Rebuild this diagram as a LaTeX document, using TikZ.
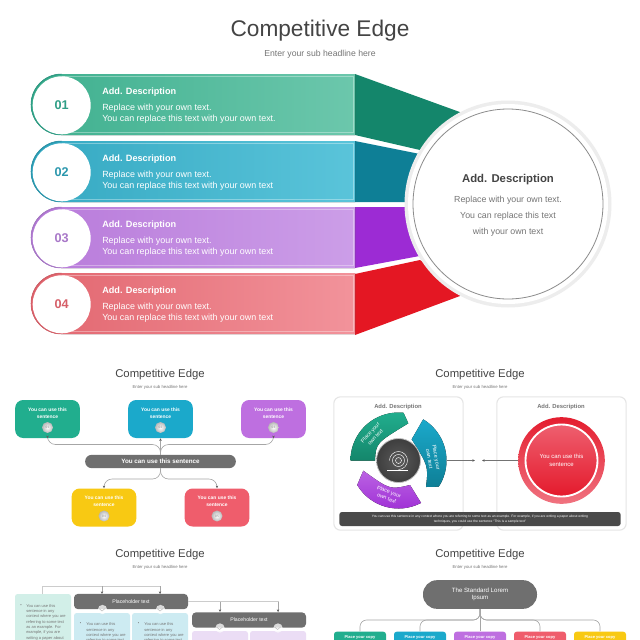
\documentclass[tikz,border=0pt]{standalone}
\usepackage{fontspec}
\setmainfont{Liberation Sans}
\usetikzlibrary{calc,arrows.meta}
\definecolor{inkdark}{HTML}{444444}
\definecolor{inkgrey}{HTML}{757575}
\definecolor{barfill}{HTML}{6F6F6F}
\definecolor{greenfill}{HTML}{21AE8E}
\definecolor{bluefill}{HTML}{1BA9CB}
\definecolor{purplefill}{HTML}{BE6FE0}
\definecolor{redfill}{HTML}{EF5D6C}
\definecolor{yellowfill}{HTML}{F8C913}
\definecolor{greendeep}{HTML}{14866B}
\definecolor{bluedeep}{HTML}{0E7F96}
\definecolor{purpledeep}{HTML}{9C2BD4}
\definecolor{reddeep}{HTML}{E41723}
\definecolor{greenleft}{HTML}{3FB08F}
\definecolor{greenright}{HTML}{6CC7AC}
\definecolor{greenline}{HTML}{2F9E86}
\definecolor{blueleft}{HTML}{35A9C2}
\definecolor{blueright}{HTML}{5AC4DA}
\definecolor{blueline}{HTML}{2B97AD}
\definecolor{purpleleft}{HTML}{B87ADA}
\definecolor{purpleright}{HTML}{CC9EE8}
\definecolor{purpleline}{HTML}{A877C8}
\definecolor{redleft}{HTML}{E2666F}
\definecolor{redright}{HTML}{F2939B}
\definecolor{redline}{HTML}{D65F68}
\definecolor{palegreen}{HTML}{D2EFE8}
\definecolor{paleblue}{HTML}{CDEBF2}
\definecolor{palepurple}{HTML}{EBDDF5}
\definecolor{hublight}{HTML}{5A5A5A}
\definecolor{hubdark}{HTML}{3E3E3E}
\definecolor{notefill}{HTML}{4A4A4A}
\definecolor{wedgepurple}{HTML}{C26FE6}
\definecolor{circleeast}{HTML}{E41D2F}
\definecolor{circlewest}{HTML}{F07380}
\definecolor{innertop}{HTML}{EE5F6F}
\definecolor{innerlow}{HTML}{E41A2C}
\tikzset{
	maintitle/.style={font=\fontsize{17}{20}\selectfont, text=inkdark},
	subtitle/.style={font=\fontsize{6.5}{8}\selectfont, text=inkgrey},
	smalltitle/.style={font=\fontsize{8.5}{10}\selectfont, text=inkdark},
	smallsub/.style={font=\fontsize{3.2}{5}\selectfont, text=inkgrey},
	bandhead/.style={anchor=west, inner sep=0pt, font=\bfseries\fontsize{6.85}{9}\selectfont, text=white},
	bandtext/.style={anchor=west, inner sep=0pt, align=left, font=\fontsize{6.7}{8.25}\selectfont, text=white},
	bandnum/.style={font=\bfseries\fontsize{9.5}{11}\selectfont},
	sentbox/.style={draw=none, rounded corners=6pt, minimum width=48.5pt, minimum height=28.5pt},
	senttext/.style={align=center, text=white, font=\bfseries\fontsize{3.7}{5.2}\selectfont},
	ballnode/.style={circle, minimum size=8.2pt, inner sep=0pt, inner color=white, outer color=black!28, text=black!45, font=\fontsize{2.4}{3}\selectfont},
	link/.style={draw=black!35, line width=0.45pt},
	linktip/.style={link, -{Stealth[length=2pt,width=1.8pt,color=black!65]}},
	curvetip/.style={linktip, rounded corners=6pt},
	greybar/.style={fill=barfill, text=white, align=center},
	paleitem/.style={anchor=north west, inner sep=0pt, align=left, text=inkgrey, font=\fontsize{3}{4}\selectfont},
	panelbox/.style={draw=black!10, line width=0.8pt, fill=white, rounded corners=5pt, minimum width=97pt, minimum height=100pt},
	chevball/.style={circle, fill=white, fill opacity=0.75, minimum size=7pt, inner sep=0pt},
	chevmark/.style={draw=black!25, line width=0.4pt},
	wedgetext/.style={align=center, text=white, font=\fontsize{4}{5.2}\selectfont},
	stepbox/.style={rounded corners=2pt, minimum width=39pt, minimum height=12pt, inner sep=0pt},
	steptext/.style={text=white, font=\bfseries\fontsize{3}{4}\selectfont},
}
% one band of the top slide: colours, top y, number, last text line
\def\bandrow[#1,#2,#3](#4)(#5)(#6){
	\fill[left color=#1, right color=#2] (355, #4) -- (61.5, #4) arc (270:90:30.5) -- (355, #4+61) -- cycle;
	\draw[white, opacity=0.35, line width=0.5pt] (62, #4+2.5) -- (353, #4+2.5) -- (353, #4+58.5) -- (62, #4+58.5);
	\draw[#3, line width=1pt] (61.5, #4+0.4) arc (270:90:30.1);
	\node[circle, fill=white, minimum size=43.5pt, inner sep=0pt, text=#3, bandnum] at (61.7, #4+31.3) {#5};
	\node[bandhead] at (102, #4+18) {Add. Description};
	\node[bandtext] at (102, #4+39.5) {Replace with your own text.\\#6};
}
\begin{document}
\begin{tikzpicture}[x=0.75pt, y=-0.75pt]
	\useasboundingbox (0, 0) rectangle (640, 640);
	\clip (0, 0) rectangle (640, 640);
	\fill[white] (0, 0) rectangle (640, 640);
	%%%%% TOP SLIDE %%%%%
	\node[maintitle] (maintitle) at (320, 30.5) {Competitive Edge};
	\node[subtitle] (mainsub) at (320, 54) {Enter your sub headline here};

	\fill[greendeep] (355, 74) -- (468, 115) -- (420, 150) -- (355, 135) -- cycle;
	\fill[bluedeep] (355, 141) -- (425, 155) -- (410, 202) -- (355, 202) -- cycle;
	\fill[purpledeep] (355, 207) -- (410, 207) -- (425, 255) -- (355, 268) -- cycle;
	\fill[reddeep] (355, 274) -- (420, 260) -- (468, 293) -- (355, 335) -- cycle;

	\bandrow[greenleft,greenright,greenline](74)(01)(You can replace this text with your own text.)
	\bandrow[blueleft,blueright,blueline](141)(02)(You can replace this text with your own text)
	\bandrow[purpleleft,purpleright,purpleline](207)(03)(You can replace this text with your own text)
	\bandrow[redleft,redright,redline](273)(04)(You can replace this text with your own text)

	\fill[black!7] (508, 204) circle (103.5);
	\fill[white] (508, 204) circle (100);
	\draw[black!45, fill=white, line width=0.6pt] (508, 204) circle (95);
	\node[font=\bfseries\fontsize{8.5}{10}\selectfont, text=inkdark] (bighead) at (508, 180) {Add. Description};
	\node[font=\fontsize{6.6}{12}\selectfont, text=inkgrey, align=center] (bigtext) at (508, 216) {Replace with your own text.\\You can replace this text\\with your own text};

	%%%%% SECOND ROW LEFT %%%%%
	\node[smalltitle] (lefttitle) at (160, 375) {Competitive Edge};
	\node[smallsub] (leftsub) at (160, 387) {Enter your sub headline here};

	\node[sentbox, fill=greenfill] (greenbox) at (47.5, 419) {};
	\node[sentbox, fill=bluefill] (bluebox) at (160.5, 419) {};
	\node[sentbox, fill=purplefill] (purplebox) at (273.5, 419) {};
	\node[sentbox, fill=yellowfill] (yellowbox) at (104, 507.5) {};
	\node[sentbox, fill=redfill] (redbox) at (217, 507.5) {};
	\node[senttext] (textone) at (47.5, 413) {You can use this\\sentence};
	\node[senttext] (texttwo) at (160.5, 413) {You can use this\\sentence};
	\node[senttext] (textthree) at (273.5, 413) {You can use this\\sentence};
	\node[senttext] (textfour) at (104, 501.5) {You can use this\\sentence};
	\node[senttext] (textfive) at (217, 501.5) {You can use this\\sentence};
	\node[ballnode] (ballone) at (47.5, 427.5) {01};
	\node[ballnode] (balltwo) at (160.5, 427.5) {02};
	\node[ballnode] (ballthree) at (273.5, 427.5) {03};
	\node[ballnode] (ballfour) at (104, 516) {04};
	\node[ballnode] (ballfive) at (217, 516) {05};

	\node[greybar, rounded corners=4.9pt, minimum width=113pt, minimum height=10pt, inner sep=0pt, font=\bfseries\fontsize{4.7}{6}\selectfont] (sentbar) at (160.5, 461.5) {You can use this sentence};
	\coordinate (joinup) at (160.5, 444.5);
	\coordinate (joindown) at (160.5, 479);
	\draw[curvetip] (sentbar.north) -- (joinup) -| (greenbox.south);
	\draw[curvetip] (sentbar.north) -- (joinup) -| (purplebox.south);
	\draw[linktip] (sentbar.north) -- (bluebox.south);
	\draw[curvetip] (sentbar.south) -- (joindown) -| (yellowbox.north);
	\draw[curvetip] (sentbar.south) -- (joindown) -| (redbox.north);

	%%%%% SECOND ROW RIGHT %%%%%
	\node[smalltitle] (righttitle) at (480, 375) {Competitive Edge};
	\node[smallsub] (rightsub) at (480, 387) {Enter your sub headline here};

	\node[panelbox] (panelleft) at (398.5, 463.5) {};
	\node[panelbox] (panelright) at (561.5, 463.5) {};
	\node[font=\bfseries\fontsize{4.4}{6}\selectfont, text=inkgrey] (panelhead) at (398, 407) {Add. Description};
	\node[font=\bfseries\fontsize{4.4}{6}\selectfont, text=inkgrey] (panelheadb) at (561, 407) {Add. Description};

	\coordinate (hub) at (398.5, 460.5);
	\fill[top color=greenfill, bottom color=greendeep] (hub) ++(-180:48) arc (-180:-84:48) -- (408.3, 423.3) .. controls (376, 443) .. (375, 460.5) -- cycle;
	\fill[top color=bluefill, bottom color=bluedeep] (hub) ++(-59:48) arc (-59:33:48) -- (426, 487) .. controls (428.4, 466) .. (411.7, 439.3) -- cycle;
	\fill[top color=wedgepurple, bottom color=purpledeep] (hub) ++(-210.7:48) arc (-210.7:-298:48) -- (410, 485) .. controls (389.8, 489.8) .. (363.3, 470.7) -- cycle;
	\node[circle, minimum size=33pt, inner sep=0pt, inner color=hublight, outer color=hubdark, draw=black!25, line width=0.6pt] (hubnode) at (hub) {};
	\draw[white, line width=0.35pt] (hub) circle (6) (hub) circle (3);
	\draw[white, line width=0.35pt] (hub) ++(-9, 0) arc (180:450:9);
	\draw[white, line width=0.35pt] (387, 470.5) -- (408, 470.5);
	\node[wedgetext, rotate=48] (wedgeone) at (372.7, 435) {Place your\\own text};
	\node[wedgetext, rotate=-80] (wedgetwo) at (433, 458) {Place your\\own text};
	\node[wedgetext, rotate=-20] (wedgethree) at (388, 495) {Place your\\own text};

	\node[circle, minimum size=65pt, inner sep=0pt, top color=circleeast, bottom color=circlewest] (redouter) at (561.5, 460.5) {};
	\node[circle, minimum size=54pt, inner sep=0pt, draw=white, line width=1.4pt, top color=innertop, bottom color=innerlow, align=center, text=white, font=\fontsize{4.5}{6.2}\selectfont] (redinner) at (561.5, 460.5) {You can use this\\sentence};
	\coordinate (tipleft) at (475, 460.5);
	\coordinate (tipright) at (482, 460.5);
	\coordinate (wedgeedge) at (447, 460.5);
	\draw[linktip, draw=black!55] (wedgeedge) -- (tipleft);
	\draw[linktip, draw=black!55] (redouter.west) -- (tipright);

	\node[fill=notefill, rounded corners=2pt, minimum width=211pt, minimum height=10.5pt, inner sep=0pt, align=center, text=white, font=\fontsize{2.5}{3.6}\selectfont] (notebar) at (480, 519) {You can use this sentence in any context where you are referring to some text as an example. For example, if you are writing a paper about writing\\techniques, you could use the sentence “This is a sample text”};

	%%%%% THIRD ROW LEFT %%%%%
	\node[smalltitle] (lowtitle) at (160, 555) {Competitive Edge};
	\node[smallsub] (lowsub) at (160, 567) {Enter your sub headline here};

	\fill[palegreen, rounded corners=2pt] (15, 594) rectangle (71, 660);
	\fill[paleblue, rounded corners=2pt] (74, 613) rectangle (130, 660);
	\fill[paleblue, rounded corners=2pt] (132, 613) rectangle (188, 660);
	\fill[palepurple, rounded corners=2pt] (192, 631) rectangle (248, 660);
	\fill[palepurple, rounded corners=2pt] (250, 631) rectangle (306, 660);
	\coordinate (palebox) at (42, 594);
	\node[greybar, rounded corners=3pt, minimum width=85.5pt, minimum height=11.5pt, inner sep=0pt, font=\fontsize{3.9}{5}\selectfont] (placeone) at (131, 601.5) {Placeholder text};
	\node[greybar, rounded corners=3pt, minimum width=85.5pt, minimum height=11.5pt, inner sep=0pt, font=\fontsize{3.9}{5}\selectfont] (placetwo) at (249, 620) {Placeholder text};
	\coordinate (railone) at (160, 586);
	\coordinate (railmid) at (102, 586);
	\coordinate (railtwo) at (278, 601.5);
	\coordinate (railcut) at (220, 601.5);
	\coordinate (dropa) at (102, 594);
	\coordinate (dropb) at (160, 594);
	\coordinate (dropc) at (220, 612);
	\coordinate (dropd) at (278, 612);
	\draw[link, line width=0.7pt, draw=black!20] (palebox) |- (railone) -- (dropb);
	\draw[linktip] (railmid) -- (dropa);
	\draw[linktip] (railone) -- (dropb);
	\draw[link, line width=0.7pt, draw=black!20] (placeone.east) -- (railtwo) -- (dropd);
	\draw[linktip] (railcut) -- (dropc);
	\draw[linktip] (railtwo) -- (dropd);
	\node[chevball] (chevone) at (102.5, 609.5) {};
	\node[chevball] (chevtwo) at (160.5, 609.5) {};
	\node[chevball] (chevthree) at (220, 628) {};
	\node[chevball] (chevfour) at (278, 628) {};
	\draw[chevmark] (chevone.west) ++(1.5, -1) -- ++(3, 2.5) -- ++(3, -2.5);
	\draw[chevmark] (chevtwo.west) ++(1.5, -1) -- ++(3, 2.5) -- ++(3, -2.5);
	\draw[chevmark] (chevthree.west) ++(1.5, -1) -- ++(3, 2.5) -- ++(3, -2.5);
	\draw[chevmark] (chevfour.west) ++(1.5, -1) -- ++(3, 2.5) -- ++(3, -2.5);
	\node[paleitem] (itemone) at (20, 604) {•};
	\node[paleitem] (itemtwo) at (79.5, 622.5) {•};
	\node[paleitem] (itemthree) at (137.5, 622.5) {•};
	\node[paleitem] (paraone) at (26, 604) {You can use this\\sentence in any\\context where you are\\referring to some text\\as an example. For\\example, if you are\\writing a paper about};
	\node[paleitem] (paratwo) at (86, 622.5) {You can use this\\sentence in any\\context where you are\\referring to some text};
	\node[paleitem] (parathree) at (144, 622.5) {You can use this\\sentence in any\\context where you are\\referring to some text};

	%%%%% THIRD ROW RIGHT %%%%%
	\node[smalltitle] (stdtitle) at (480, 555) {Competitive Edge};
	\node[smallsub] (stdsub) at (480, 567) {Enter your sub headline here};

	\node[greybar, rounded corners=10.5pt, minimum width=85.5pt, minimum height=21.5pt, inner sep=0pt, font=\fontsize{4.6}{5.6}\selectfont] (stdpill) at (480, 594.5) {The Standard Lorem\\Ipsum};
	\node[stepbox, fill=greenfill] (stepa) at (360, 639.7) {};
	\node[stepbox, fill=bluefill] (stepb) at (420, 639.7) {};
	\node[stepbox, fill=purplefill] (stepc) at (480, 639.7) {};
	\node[stepbox, fill=redfill] (stepd) at (540, 639.7) {};
	\node[stepbox, fill=yellowfill] (stepe) at (600, 639.7) {};
	\node[steptext] (labela) at (360, 637.5) {Place your copy};
	\node[steptext] (labelb) at (420, 637.5) {Place your copy};
	\node[steptext] (labelc) at (480, 637.5) {Place your copy};
	\node[steptext] (labeld) at (540, 637.5) {Place your copy};
	\node[steptext] (labele) at (600, 637.5) {Place your copy};
	\coordinate (stdjoin) at (480, 620);
	\draw[link, rounded corners=5pt] (stdpill.south) -- (stdjoin) -| (stepa.north);
	\draw[link, rounded corners=5pt] (stdpill.south) -- (stdjoin) -| (stepb.north);
	\draw[link] (stdpill.south) -- (stepc.north);
	\draw[link, rounded corners=5pt] (stdpill.south) -- (stdjoin) -| (stepd.north);
	\draw[link, rounded corners=5pt] (stdpill.south) -- (stdjoin) -| (stepe.north);
	%%%%% END %%%%%
\end{tikzpicture}
\end{document}
